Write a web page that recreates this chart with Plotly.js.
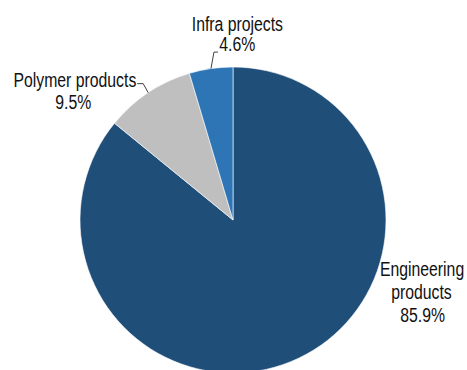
<!DOCTYPE html>
<html>
<head>
<meta charset="utf-8">
<script src="https://cdn.plot.ly/plotly-3.0.1.min.js"></script>
<style>
html,body{margin:0;padding:0;overflow:hidden;background:#fff;width:467px;height:370px;}
#chart{width:467px;height:440px;}
</style>
</head>
<body>
<div id="chart"></div>
<script>
const categories = ["Engineering products", "Polymer products", "Infra projects"];
const labelLines = [["Engineering", "products"], ["Polymer products"], ["Infra projects"]];
const shares = [85.9, 9.5, 4.6];
const colors = ["#1F4E79", "#BFBFBF", "#2E75B6"];

const W = 467, H = 440;
const cx = 233, cy = 220, R = 153;
const FONT = "'Liberation Sans', Arial, sans-serif";
const FSIZE = 19.5;
const SQUEEZE = 0.81;

function px2paper(x, y) { return [x / W, (H - y) / H]; }

// mid angle of each slice (clockwise from 12 o'clock)
const total = shares.reduce((a, b) => a + b, 0);
let cum = 0;
const mids = shares.map(v => { const m = (cum + v / 2) / total * 2 * Math.PI; cum += v; return m; });
function arcPoint(i, r) { return [cx + r * Math.sin(mids[i]), cy - r * Math.cos(mids[i])]; }

// label layout: centre x and visual centre y of each text line (name lines then value)
const labelLayout = [
  { x: [421.5, 421, 422], y: [269, 292, 315], line: null },
  { x: [74.7, 72.5], y: [80.3, 102.3], line: [[-5, -9], [-11, -9]] },
  { x: [237.5, 237], y: [24, 44.2], line: [[3, -16.5], [7, -16.5]] }
];

const annotations = [];
const shapes = [];
categories.forEach((c, i) => {
  const lines = labelLines[i].concat([shares[i].toFixed(1) + "%"]);
  lines.forEach((t, k) => {
    const pp = px2paper(labelLayout[i].x[k], labelLayout[i].y[k]);
    annotations.push({
      xref: "paper", yref: "paper", x: pp[0], y: pp[1],
      xanchor: "center", yanchor: "middle", showarrow: false,
      text: t, align: "center",
      font: { family: FONT, size: FSIZE, color: "#111" }
    });
  });
  if (labelLayout[i].line) {
    const tip = arcPoint(i, R);
    let d = "M" + tip[0] + "," + tip[1];
    labelLayout[i].line.forEach(o => { d += " L" + (tip[0] + o[0]) + "," + (tip[1] + o[1]); });
    shapes.push({ type: "path", xref: "x", yref: "y", path: d, line: { color: "#404040", width: 1 } });
  }
});

const data = [{
  type: "pie",
  labels: categories,
  values: shares,
  sort: false,
  direction: "clockwise",
  rotation: 0,
  textinfo: "none",
  hoverinfo: "label+percent",
  marker: { colors: colors, line: { color: "#ffffff", width: 0.6 } },
  domain: { x: [(cx - R) / W, (cx + R) / W], y: [(H - cy - R) / H, (H - cy + R) / H] }
}];

const layout = {
  width: W, height: H,
  margin: { l: 0, r: 0, t: 0, b: 0 },
  paper_bgcolor: "#fff", plot_bgcolor: "rgba(0,0,0,0)",
  showlegend: false,
  xaxis: { range: [0, W], visible: false, fixedrange: true },
  yaxis: { range: [H, 0], visible: false, fixedrange: true },
  annotations: annotations,
  shapes: shapes
};

Plotly.newPlot("chart", data, layout, { displayModeBar: false, staticPlot: true }).then(gd => {
  // narrow the label text horizontally (condensed look), keeping each centred
  gd.querySelectorAll(".annotation-text").forEach(el => {
    const b = el.getBBox();
    const mx = b.x + b.width / 2;
    const prev = el.getAttribute("transform") || "";
    el.setAttribute("transform", prev + " translate(" + mx + ",0) scale(" + SQUEEZE + ",1) translate(" + (-mx) + ",0)");
  });
});
</script>
</body>
</html>
